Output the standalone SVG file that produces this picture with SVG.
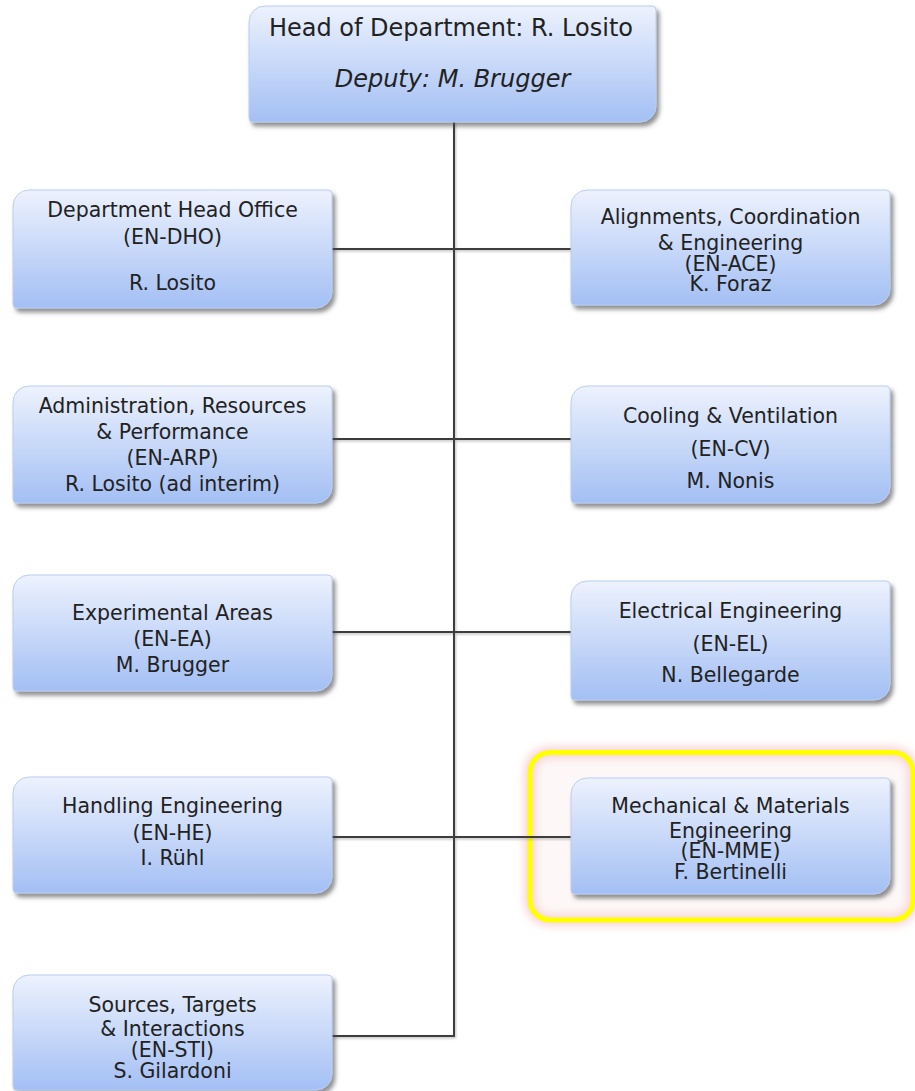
<svg xmlns="http://www.w3.org/2000/svg" width="915" height="1091" viewBox="0 0 915 1091">
<defs>
<linearGradient id="g" x1="0" y1="0" x2="0" y2="1">
<stop offset="0" stop-color="#edf2fd"/>
<stop offset="1" stop-color="#a3bff4"/>
</linearGradient>
<filter id="sh" x="-10%" y="-10%" width="125%" height="130%">
<feDropShadow dx="3" dy="4" stdDeviation="2" flood-color="#4a4a4a" flood-opacity="0.6"/>
</filter>
<filter id="lsh" x="-5%" y="-5%" width="110%" height="110%">
<feDropShadow dx="1" dy="1.5" stdDeviation="0.8" flood-color="#777" flood-opacity="0.5"/>
</filter>
<filter id="glow" x="-10%" y="-10%" width="120%" height="120%">
<feGaussianBlur stdDeviation="4"/>
</filter>
</defs>
<style>
.box{fill:url(#g);stroke:#b9cdf2;stroke-width:1;filter:url(#sh)}
.t{font-family:"DejaVu Sans",Verdana,sans-serif;font-size:20.5px;fill:#222;text-anchor:middle}
.h{font-size:24px}
.i{font-style:italic}
.c{fill:none;stroke:#3c3c3c;stroke-width:2}
</style>
<rect width="915" height="1091" fill="#ffffff"/>

<g id="highlight">
<rect x="530" y="752.5" width="383" height="167.5" rx="20" fill="#fdf6f6" stroke="#f6caca" stroke-width="12" filter="url(#glow)" opacity="0.8"/>
<rect x="530" y="752.5" width="383" height="167.5" rx="20" fill="none" stroke="#ffff00" stroke-width="5"/>
</g>

<g id="connectors" filter="url(#lsh)">
<path class="c" d="M454,122 V1036 H332"/>
<path class="c" d="M332,249 H571"/>
<path class="c" d="M332,439 H571"/>
<path class="c" d="M332,632 H571"/>
<path class="c" d="M332,837 H571"/>
</g>

<g id="head">
<path class="box" d="M265,6 H652 A4,4 0 0 1 656,10 V106 A16,16 0 0 1 640,122 H253 A4,4 0 0 1 249,118 V22 A16,16 0 0 1 265,6 Z"/>
<text class="t h" x="451" y="36">Head of Department: R. Losito</text>
<text class="t h i" x="452.5" y="87">Deputy: M. Brugger</text>
</g>

<g id="en-dho">
<path class="box" d="M29,190 H328 A4,4 0 0 1 332,194 V292 A16,16 0 0 1 316,308 H17 A4,4 0 0 1 13,304 V206 A16,16 0 0 1 29,190 Z"/>
<text class="t" x="172.5" y="217">Department Head Office</text>
<text class="t" x="172.5" y="244">(EN-DHO)</text>
<text class="t" x="172.5" y="290">R. Losito</text>
</g>

<g id="en-arp">
<path class="box" d="M29,386 H328 A4,4 0 0 1 332,390 V487 A16,16 0 0 1 316,503 H17 A4,4 0 0 1 13,499 V402 A16,16 0 0 1 29,386 Z"/>
<text class="t" x="172.5" y="413">Administration, Resources</text>
<text class="t" x="172.5" y="439">&amp; Performance</text>
<text class="t" x="172.5" y="465">(EN-ARP)</text>
<text class="t" x="172.5" y="491">R. Losito (ad interim)</text>
</g>

<g id="en-ea">
<path class="box" d="M29,575 H328 A4,4 0 0 1 332,579 V675 A16,16 0 0 1 316,691 H17 A4,4 0 0 1 13,687 V591 A16,16 0 0 1 29,575 Z"/>
<text class="t" x="172.5" y="620">Experimental Areas</text>
<text class="t" x="172.5" y="646">(EN-EA)</text>
<text class="t" x="172.5" y="672">M. Brugger</text>
</g>

<g id="en-he">
<path class="box" d="M29,777 H328 A4,4 0 0 1 332,781 V877 A16,16 0 0 1 316,893 H17 A4,4 0 0 1 13,889 V793 A16,16 0 0 1 29,777 Z"/>
<text class="t" x="172.5" y="813">Handling Engineering</text>
<text class="t" x="172.5" y="840">(EN-HE)</text>
<text class="t" x="172.5" y="865">I. Rühl</text>
</g>

<g id="en-sti">
<path class="box" d="M29,975 H328 A4,4 0 0 1 332,979 V1074 A16,16 0 0 1 316,1090 H17 A4,4 0 0 1 13,1086 V991 A16,16 0 0 1 29,975 Z"/>
<text class="t" x="172.5" y="1012">Sources, Targets</text>
<text class="t" x="172.5" y="1036">&amp; Interactions</text>
<text class="t" x="172.5" y="1057">(EN-STI)</text>
<text class="t" x="172.5" y="1078">S. Gilardoni</text>
</g>

<g id="en-ace">
<path class="box" d="M587,190 H886 A4,4 0 0 1 890,194 V289 A16,16 0 0 1 874,305 H575 A4,4 0 0 1 571,301 V206 A16,16 0 0 1 587,190 Z"/>
<text class="t" x="730.5" y="224">Alignments, Coordination</text>
<text class="t" x="730.5" y="250">&amp; Engineering</text>
<text class="t" x="730.5" y="271">(EN-ACE)</text>
<text class="t" x="730.5" y="291">K. Foraz</text>
</g>

<g id="en-cv">
<path class="box" d="M587,386 H886 A4,4 0 0 1 890,390 V487 A16,16 0 0 1 874,503 H575 A4,4 0 0 1 571,499 V402 A16,16 0 0 1 587,386 Z"/>
<text class="t" x="730.5" y="423">Cooling &amp; Ventilation</text>
<text class="t" x="730.5" y="456">(EN-CV)</text>
<text class="t" x="730.5" y="488">M. Nonis</text>
</g>

<g id="en-el">
<path class="box" d="M587,581 H886 A4,4 0 0 1 890,585 V684 A16,16 0 0 1 874,700 H575 A4,4 0 0 1 571,696 V597 A16,16 0 0 1 587,581 Z"/>
<text class="t" x="730.5" y="618">Electrical Engineering</text>
<text class="t" x="730.5" y="651">(EN-EL)</text>
<text class="t" x="730.5" y="682">N. Bellegarde</text>
</g>

<g id="en-mme">
<path class="box" d="M587,778 H886 A4,4 0 0 1 890,782 V878 A16,16 0 0 1 874,894 H575 A4,4 0 0 1 571,890 V794 A16,16 0 0 1 587,778 Z"/>
<text class="t" x="730.5" y="813">Mechanical &amp; Materials</text>
<text class="t" x="730.5" y="838">Engineering</text>
<text class="t" x="730.5" y="858">(EN-MME)</text>
<text class="t" x="730.5" y="879">F. Bertinelli</text>
</g>
</svg>
